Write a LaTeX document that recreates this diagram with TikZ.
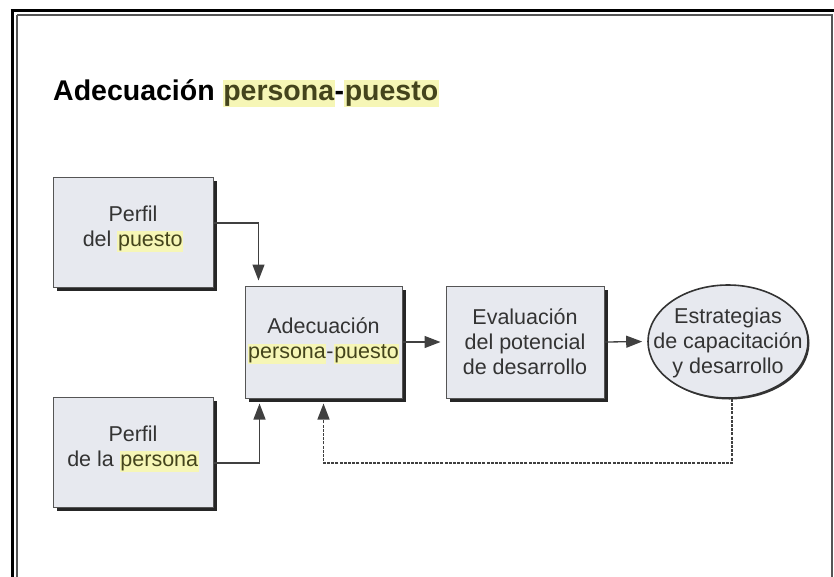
\documentclass[tikz,border=0pt]{standalone}
\usepackage{fontspec}
\setmainfont{Liberation Sans}
\usetikzlibrary{shapes.geometric,shadows,arrows.meta}
\definecolor{hlyellow}{HTML}{F6F6B6}
\definecolor{hltext}{HTML}{44441C}
\definecolor{boxfill}{HTML}{E7E9EF}
\definecolor{boxtext}{HTML}{333333}
\definecolor{framegrey}{HTML}{555555}
\newcommand\hlt[1]{{\setlength{\fboxsep}{0.6pt}\colorbox{hlyellow}{\color{hltext}\vphantom{Ap}#1}}}
\begin{document}
\begin{tikzpicture}[x=1pt,y=-1pt,
  every node/.style={inner sep=0pt},
  boxnode/.style={draw=framegrey, line width=1pt, fill=boxfill,
    drop shadow={shadow xshift=3.5pt, shadow yshift=-3.5pt, fill=black!85, opacity=1}},
  ellnode/.style={ellipse, draw=black!80, line width=1.6pt, fill=boxfill,
    minimum width=160pt, minimum height=113pt,
    drop shadow={shadow xshift=1.5pt, shadow yshift=-1.5pt, fill=black!80, opacity=1}},
  txt/.style={align=center, text=boxtext, font=\fontsize{21.5}{25}\selectfont},
  arr/.style={draw=black!75, line width=1.3pt, -{Triangle[length=16pt,width=12pt]}, shorten >=5pt},
  fbarr/.style={arr, dash pattern=on 3pt off 1.2pt}
]
\useasboundingbox (0,0) rectangle (834,576);
% frames
\draw[framegrey, line width=2pt] (17,15) -- (832,15) -- (832,580);
\draw[framegrey, line width=2pt] (17,15) -- (17,580);
\draw[black, line width=3pt] (10.5,10) -- (840,10);
\draw[black, line width=3pt] (12,10) -- (12,580);
% title
\node[anchor=base west, font=\bfseries\fontsize{28.5}{32}\selectfont] (title) at (53,100)
  {Adecuación \hlt{persona}-\hlt{puesto}};
% boxes
\node[boxnode, minimum width=160pt, minimum height=110pt] (puesto) at (133,232) {};
\node[txt] at ([yshift=3pt]puesto.center) {Perfil\\del \hlt{puesto}};
\node[boxnode, minimum width=160pt, minimum height=110pt] (persona) at (133,452) {};
\node[txt] at ([yshift=3pt]persona.center) {Perfil\\de la \hlt{persona}};
\node[boxnode, minimum width=157pt, minimum height=112pt] (adec) at (323.5,342) {};
\node[txt] at ([yshift=1pt]adec.center) {Adecuación\\\hlt{persona}-\hlt{puesto}};
\node[boxnode, minimum width=158pt, minimum height=112pt] (eval) at (525,342) {};
\node[txt] at (eval.center) {Evaluación\\del potencial\\de desarrollo};
\node[ellnode] (ell) at (728,341.5) {};
\node[txt] at ([yshift=-1pt]ell.center) {Estrategias\\de capacitación\\y desarrollo};
% connectors
\coordinate (fb) at (732,463);
\draw[arr] ([yshift=9pt]puesto.east) -| ([xshift=14pt]adec.north west);
\draw[arr] ([yshift=-11pt]persona.east) -| ([xshift=15pt]adec.south west);
\draw[arr] (adec.east) -- (eval.west);
\draw[arr] (eval.east) -- (ell.west);
\draw[fbarr] ([xshift=4pt]ell.south) -- (fb) -| (adec.south);
\end{tikzpicture}
\end{document}
